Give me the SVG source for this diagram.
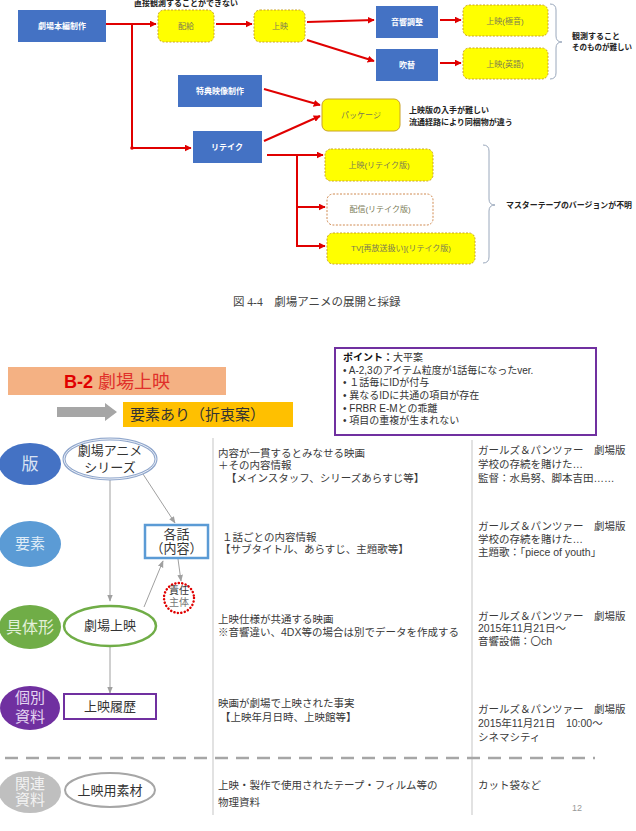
<svg xmlns="http://www.w3.org/2000/svg" width="636" height="831" viewBox="0 0 636 831">
<defs>
<style>
text{font-family:"Liberation Sans","Noto Sans CJK JP",sans-serif}
.blue{fill:#4472C4}
.bt{font-size:8px;font-weight:bold;fill:#fff;text-anchor:middle}
.yel{fill:#FFFF00;stroke:#C9A227;stroke-width:1;stroke-dasharray:2 1.5}
.yt{font-size:8px;fill:#7a7a55;text-anchor:middle}
.red{stroke:#E00000;stroke-width:2;fill:none}
.brace{stroke:#9AA8BC;stroke-width:1;fill:none}
.note{font-size:8px;font-weight:bold;fill:#222}
.gl{stroke:#A0A0A0;stroke-width:1;fill:none}
.sep{stroke:#CFCFCF;stroke-width:1.2}
.mt{font-size:10.5px;fill:#3a3a3a}
.lt{font-size:13px;fill:#333;text-anchor:middle}
.pt{font-size:10px;fill:#333}
.ct{text-anchor:middle}
</style>
<marker id="ra" viewBox="0 0 10 10" refX="9" refY="5" markerWidth="7" markerHeight="7" markerUnits="userSpaceOnUse" orient="auto"><path d="M0,0 L10,5 L0,10 z" fill="#E00000"/></marker>
<marker id="ga" viewBox="0 0 10 10" refX="9" refY="5" markerWidth="7" markerHeight="7" markerUnits="userSpaceOnUse" orient="auto"><path d="M0,1 L10,5 L0,9 z" fill="#A0A0A0"/></marker>
</defs>
<rect width="636" height="831" fill="#fff"/>

<!-- top diagram -->
<text x="186" y="6" class="note" text-anchor="middle">直接観測することができない</text>

<g id="connectors-top">
<path class="red" d="M105,24 H156" marker-end="url(#ra)"/>
<path class="red" d="M132,24 V148 H191" marker-end="url(#ra)"/>
<circle cx="132" cy="148" r="1.8" fill="#E00000"/>
<path class="red" d="M216,24 H252" marker-end="url(#ra)"/>
<path class="red" d="M307,22 L374,20" marker-end="url(#ra)"/>
<path class="red" d="M307,40 L374,61" marker-end="url(#ra)"/>
<path class="red" d="M440,20 H461" marker-end="url(#ra)"/>
<path class="red" d="M440,63 H461" marker-end="url(#ra)"/>
<path class="red" d="M264,89 L320,105" marker-end="url(#ra)"/>
<path class="red" d="M264,141 L320,116" marker-end="url(#ra)"/>
<path class="red" d="M267,155 H323" marker-end="url(#ra)"/>
<path class="red" d="M297,155 V246 H325" marker-end="url(#ra)"/>
<path class="red" d="M297,207 H325" marker-end="url(#ra)"/>
</g>

<g id="n-honpen"><rect x="18" y="10" width="88" height="32" class="blue"/><text x="62" y="29" class="bt">劇場本編制作</text></g>
<g id="n-haikyu"><rect x="158" y="10" width="56" height="32" rx="6" class="yel"/><text x="186" y="29" class="yt">配給</text></g>
<g id="n-joei"><rect x="254" y="10" width="51" height="32" rx="6" class="yel"/><text x="280" y="29" class="yt">上映</text></g>
<g id="n-onkyo"><rect x="376" y="6" width="62" height="32" class="blue"/><text x="407" y="25" class="bt">音響調整</text></g>
<g id="n-fukikae"><rect x="376" y="49" width="62" height="32" class="blue"/><text x="407" y="68" class="bt">吹替</text></g>
<g id="n-gokuon"><rect x="463" y="5" width="85" height="31" rx="6" class="yel"/><text x="505" y="24" class="yt">上映(極音)</text></g>
<g id="n-eigo"><rect x="463" y="48" width="85" height="31" rx="6" class="yel"/><text x="505" y="67" class="yt">上映(英語)</text></g>
<g id="n-tokuten"><rect x="178" y="75" width="84" height="32" class="blue"/><text x="220" y="94" class="bt">特典映像制作</text></g>
<g id="n-retake"><rect x="193" y="131" width="69" height="32" class="blue"/><text x="227" y="150" class="bt">リテイク</text></g>
<g id="n-package"><rect x="322" y="99" width="78" height="32" rx="6" fill="#FFFF00" stroke="#C9A227"/><text x="361" y="118" class="yt">パッケージ</text></g>
<g id="n-joei-rt"><rect x="325" y="149" width="108" height="32" rx="6" class="yel"/><text x="379" y="168" class="yt">上映(リテイク版)</text></g>
<g id="n-haishin-rt"><rect x="327" y="194" width="106" height="31" rx="6" fill="#fff" stroke="#D08A50" stroke-width="1" stroke-dasharray="2 1.5"/><text x="380" y="212" class="yt" fill="#777">配信(リテイク版)</text></g>
<g id="n-tv-rt"><rect x="327" y="233" width="148" height="31" rx="6" class="yel"/><text x="401" y="251" class="yt">TV[再放送扱い](リテイク版)</text></g>

<path class="brace" d="M550,4 Q556,4 556,10 V36 Q556,42 562,42 Q556,42 556,48 V73 Q556,79 550,79"/>
<text x="572" y="39" class="note">観測すること</text>
<text x="572" y="50" class="note" font-size="7.5px" style="font-size:7.5px">そのものが難しい</text>
<text x="409" y="113" class="note">上映版の入手が難しい</text>
<text x="409" y="125" class="note">流通経路により同梱物が違う</text>
<path class="brace" d="M483,145 Q489,145 489,151 V199 Q489,205 495,205 Q489,205 489,211 V257 Q489,263 483,263"/>
<text x="506" y="208" class="note" textLength="126" lengthAdjust="spacingAndGlyphs">マスターテープのバージョンが不明</text>

<text x="233" y="306" style="font-family:'Liberation Serif','Noto Sans CJK JP',serif" font-size="11.5" fill="#444">図 4-4　劇場アニメの展開と採録</text>

<!-- bottom slide -->
<g id="title">
<rect x="8" y="367" width="218" height="28" fill="#F4B183"/>
<text x="117" y="388" text-anchor="middle" font-size="18"><tspan font-weight="bold" fill="#E00000">B-2</tspan><tspan fill="#E0302A"> 劇場上映</tspan></text>
<path d="M57,407 H105 V403 L117,412 L105,421 V417 H57 z" fill="#A6A6A6"/>
<rect x="123" y="402" width="170" height="25" fill="#FFC000"/>
<text x="130" y="420" font-size="15" fill="#333">要素あり（折衷案）</text>
</g>

<g id="point-box">
<rect x="335" y="348" width="261" height="87" fill="#fff" stroke="#7030A0" stroke-width="2"/>
<text x="343" y="361" class="pt"><tspan font-weight="bold" fill="#111">ポイント：</tspan>大平案</text>
<text x="343" y="373.5" class="pt">• A-2,3のアイテム粒度が1話毎になったver.</text>
<text x="343" y="386" class="pt">• １話毎にIDが付与</text>
<text x="343" y="399" class="pt">• 異なるIDに共通の項目が存在</text>
<text x="343" y="411.5" class="pt">• FRBR E-Mとの乖離</text>
<text x="343" y="424" class="pt">• 項目の重複が生まれない</text>
</g>

<g id="separators">
<line x1="213" y1="438" x2="213" y2="815" class="sep"/>
<line x1="472" y1="440" x2="472" y2="815" class="sep"/>
<line x1="5" y1="758" x2="595" y2="758" stroke="#A6A6A6" stroke-width="2.5" stroke-dasharray="13 8"/>
</g>

<g id="connectors-bottom">
<path class="gl" d="M110,479 V601" marker-end="url(#ga)"/>
<path class="gl" d="M141,471 L175,523" marker-end="url(#ga)"/>
<path class="gl" d="M144,607 L163,561" marker-end="url(#ga)"/>
<path class="gl" d="M178,559 L181,581" marker-end="url(#ga)"/>
<path class="gl" d="M110,647 V693" marker-end="url(#ga)"/>
</g>

<g id="lv-han"><ellipse cx="30" cy="464" rx="31" ry="21" fill="#4472C4"/><text x="30" y="470" class="ct" font-size="17" fill="#DAE3F3">版</text></g>
<g id="lv-yoso"><ellipse cx="30" cy="544" rx="31" ry="23" fill="#5B9BD5"/><text x="30" y="549" class="ct" font-size="15" fill="#DEEBF7">要素</text></g>
<g id="lv-gutai"><ellipse cx="30" cy="627" rx="31" ry="22" fill="#70AD47"/><text x="30" y="633" class="ct" font-size="16" fill="#E2F0D9">具体形</text></g>
<g id="lv-kobetsu"><ellipse cx="30" cy="708" rx="30" ry="22" fill="#7030A0"/><text x="30" y="703" class="ct" font-size="15" fill="#E4D5F0">個別</text><text x="30" y="722" class="ct" font-size="15" fill="#E4D5F0">資料</text></g>
<g id="lv-kanren"><ellipse cx="30" cy="792" rx="31" ry="21" fill="#BFBFBF"/><text x="30" y="789" class="ct" font-size="15" fill="#F2F2F2">関連</text><text x="30" y="805" class="ct" font-size="15" fill="#F2F2F2">資料</text></g>

<g id="n-series"><ellipse cx="110" cy="459" rx="46" ry="20" fill="#fff" stroke="#8FA6CC" stroke-width="3"/><ellipse cx="110" cy="459" rx="46" ry="20" fill="none" stroke="#fff" stroke-width="0.8"/><text x="110" y="455" class="lt">劇場アニメ</text><text x="110" y="472" class="lt">シリーズ</text></g>
<g id="n-kakuwa"><rect x="145" y="525" width="63" height="33" fill="#fff" stroke="#5B9BD5" stroke-width="2.5"/><text x="176.5" y="539" class="lt">各話</text><text x="176.5" y="553" class="lt">（内容）</text></g>
<g id="n-sekinin"><circle cx="179" cy="598" r="15" fill="#fff" stroke="#E00000" stroke-width="2.5" stroke-dasharray="0.1 3.4" stroke-linecap="round"/><text x="179" y="594" class="ct" font-size="10" fill="#333">責任</text><text x="179" y="606" class="ct" font-size="10" fill="#777">主体</text></g>
<g id="n-gekijo"><ellipse cx="110" cy="626" rx="46" ry="20" fill="#fff" stroke="#70AD47" stroke-width="2.5"/><text x="110" y="630" class="lt">劇場上映</text></g>
<g id="n-rireki"><rect x="64" y="694" width="92" height="25" fill="#fff" stroke="#7030A0" stroke-width="2"/><text x="110" y="711" class="lt">上映履歴</text></g>
<g id="n-sozai"><ellipse cx="110" cy="790" rx="45" ry="17" fill="#fff" stroke="#A6A6A6" stroke-width="2"/><text x="110" y="795" class="lt">上映用素材</text></g>

<g id="mid-text">
<text x="218" y="457" class="mt">内容が一貫するとみなせる映画</text>
<text x="218" y="469" class="mt">＋その内容情報</text>
<text x="226" y="482" class="mt">【メインスタッフ、シリーズあらすじ等】</text>
<text x="222" y="541" class="mt">１話ごとの内容情報</text>
<text x="220" y="553" class="mt">【サブタイトル、あらすじ、主題歌等】</text>
<text x="218" y="623" class="mt">上映仕様が共通する映画</text>
<text x="218" y="636" class="mt">※音響違い、4DX等の場合は別でデータを作成する</text>
<text x="218" y="707" class="mt">映画が劇場で上映された事実</text>
<text x="220" y="721" class="mt">【上映年月日時、上映館等】</text>
<text x="218" y="789" class="mt">上映・製作で使用されたテープ・フィルム等の</text>
<text x="218" y="806" class="mt">物理資料</text>
</g>

<g id="right-text">
<text x="478" y="454" class="mt">ガールズ＆パンツァー　劇場版</text>
<text x="478" y="468" class="mt">学校の存続を賭けた…</text>
<text x="478" y="482" class="mt">監督：水島努、脚本吉田……</text>
<text x="478" y="530" class="mt">ガールズ＆パンツァー　劇場版</text>
<text x="478" y="543" class="mt">学校の存続を賭けた…</text>
<text x="478" y="556" class="mt">主題歌：「piece of youth」</text>
<text x="478" y="620" class="mt">ガールズ＆パンツァー　劇場版</text>
<text x="478" y="632" class="mt">2015年11月21日～</text>
<text x="478" y="645" class="mt">音響設備：〇ch</text>
<text x="478" y="713" class="mt">ガールズ＆パンツァー　劇場版</text>
<text x="478" y="727" class="mt">2015年11月21日　10:00～</text>
<text x="478" y="741" class="mt">シネマシティ</text>
<text x="478" y="789" class="mt">カット袋など</text>
<text x="577" y="811" class="ct" font-size="9" fill="#999">12</text>
</g>
</svg>
